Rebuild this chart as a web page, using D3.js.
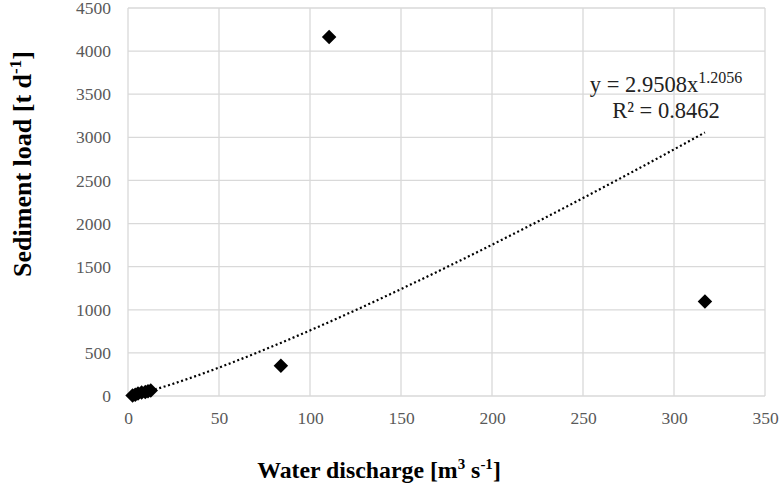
<!DOCTYPE html>
<html><head><meta charset="utf-8">
<script src="https://cdn.jsdelivr.net/npm/d3@7"></script>
<style>
html,body{margin:0;padding:0;background:#fff;}
svg{display:block;}
svg text{font-family:"Liberation Serif","Times New Roman",serif !important;}
</style></head>
<body>
<svg id="c" width="782" height="487"></svg>
<script>
// Data
const discharge = [2.5, 4, 5.5, 7.5, 9.5, 11, 12.5, 84, 110.5, 317];
const sedimentLoad = [5, 15, 30, 40, 45, 55, 65, 350, 4165, 1095];
const xTicks = [0, 50, 100, 150, 200, 250, 300, 350];
const yTicks = [0, 500, 1000, 1500, 2000, 2500, 3000, 3500, 4000, 4500];
const trendCoef = 2.9508, trendExp = 1.2056, rSquared = 0.8462;

const svg = d3.select("#c");
const L = 128, R = 765, T = 8, B = 396;
const x = d3.scaleLinear().domain([0, 350]).range([L, R]);
const y = d3.scaleLinear().domain([0, 4500]).range([B, T]);

// gridlines
svg.append("g").selectAll("line").data(yTicks).join("line")
  .attr("x1", L).attr("x2", R).attr("y1", d => y(d)).attr("y2", d => y(d))
  .attr("stroke", "#d9d9d9").attr("stroke-width", 1.3);
svg.append("g").selectAll("line").data(xTicks).join("line")
  .attr("y1", T).attr("y2", B).attr("x1", d => x(d)).attr("x2", d => x(d))
  .attr("stroke", "#d9d9d9").attr("stroke-width", 1.3);

// axes tick labels
const xAxis = d3.axisBottom(x).tickValues(xTicks).tickFormat(d3.format("d")).tickSize(0).tickPadding(16);
const gx = svg.append("g").attr("transform", `translate(0,${B})`).call(xAxis);
gx.select(".domain").remove();
gx.attr("font-family", null);
gx.selectAll("text").style("font-size", "17.5px").attr("fill", "#595959");

const yAxis = d3.axisLeft(y).tickValues(yTicks).tickFormat(d3.format("d")).tickSize(0).tickPadding(17);
const gy = svg.append("g").attr("transform", `translate(${L},0)`).call(yAxis);
gy.select(".domain").remove();
gy.attr("font-family", null);
gy.selectAll("text").style("font-size", "17.5px").attr("fill", "#595959");

// trendline (power fit shown on chart)
const xmin = d3.min(discharge), xmax = d3.max(discharge);
const trend = d3.range(0, 101).map(i => {
  const xv = xmin + (xmax - xmin) * i / 100;
  return [xv, trendCoef * Math.pow(xv, trendExp)];
});
svg.append("path").datum(trend)
  .attr("d", d3.line().x(d => x(d[0])).y(d => y(d[1])))
  .attr("fill", "none").attr("stroke", "#000").attr("stroke-width", 2.2)
  .attr("stroke-dasharray", "2,2.6");

// points
const sym = d3.symbol().type(d3.symbolSquare).size(105);
svg.append("g").selectAll("path").data(discharge.map((d, i) => [d, sedimentLoad[i]])).join("path")
  .attr("d", sym)
  .attr("transform", d => `translate(${x(d[0])},${y(d[1])}) rotate(45)`)
  .attr("fill", "#000");

// equation
const eq = svg.append("text").attr("x", 666).attr("y", 92).attr("text-anchor", "middle")
  .style("font-size", "22.5px").attr("fill", "#222");
eq.append("tspan").text(`y = ${trendCoef}x`);
eq.append("tspan").attr("dy", -9).style("font-size", "16px").text(trendExp);
svg.append("text").attr("x", 666).attr("y", 118).attr("text-anchor", "middle")
  .style("font-size", "22.5px").attr("fill", "#222")
  .text(`R² = ${rSquared}`);

// axis titles
const xt = svg.append("text").attr("x", 379).attr("y", 478).attr("text-anchor", "middle")
  .attr("font-weight", "bold").style("font-size", "23.8px").attr("fill", "#000");
xt.append("tspan").text("Water discharge [m");
xt.append("tspan").attr("dy", -9).style("font-size", "15px").text("3");
xt.append("tspan").attr("dy", 9).text(" s");
xt.append("tspan").attr("dy", -9).style("font-size", "15px").text("-1");
xt.append("tspan").attr("dy", 9).text("]");

const yt = svg.append("text").attr("transform", "translate(31,164) rotate(-90)").attr("text-anchor", "middle")
  .attr("font-weight", "bold").style("font-size", "26px").attr("fill", "#000");
yt.append("tspan").text("Sediment load [t d");
yt.append("tspan").attr("dy", -10).style("font-size", "17px").text("-1");
yt.append("tspan").attr("dy", 10).text("]");
</script>
</body></html>
